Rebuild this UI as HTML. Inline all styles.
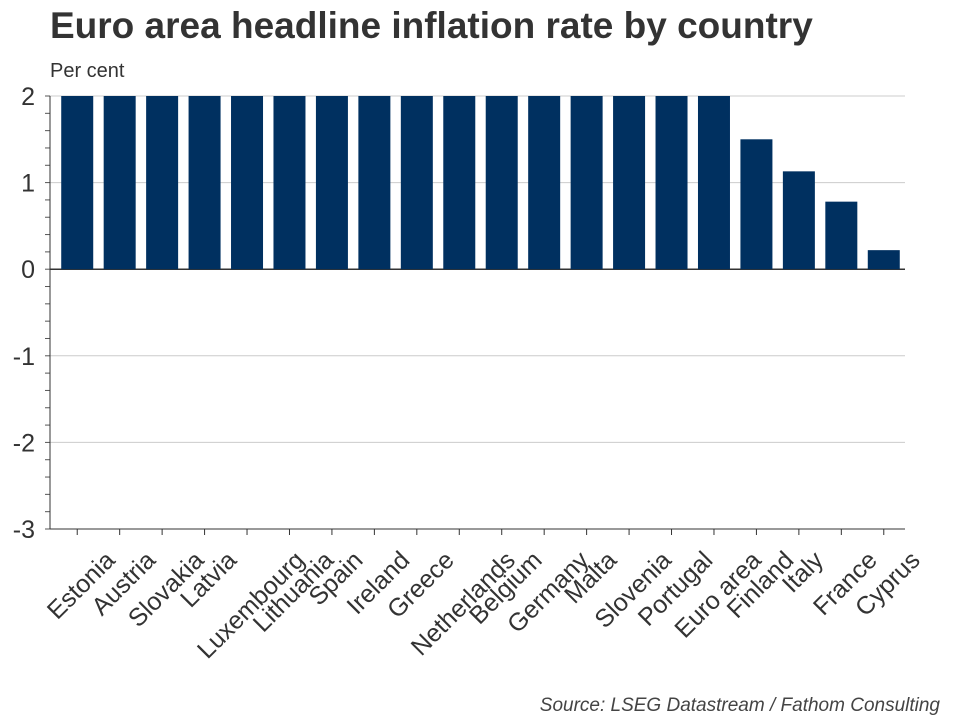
<!DOCTYPE html>
<html><head><meta charset="utf-8"><style>
body{margin:0;background:#fff}
svg text{font-family:"Liberation Sans",Arial,sans-serif}
</style></head><body>
<svg width="960" height="720" id="c">
<text x="50" y="38" font-size="37" font-weight="bold" fill="#333">Euro area headline inflation rate by country</text>
<text x="50" y="77" font-size="20" fill="#333">Per cent</text>
<text x="940" y="711" font-size="19" font-style="italic" fill="#444" text-anchor="end">Source: LSEG Datastream / Fathom Consulting</text>
<g id="plot"></g>
</svg>
<script>
const categories=["Estonia","Austria","Slovakia","Latvia","Luxembourg","Lithuania","Spain","Ireland","Greece","Netherlands","Belgium","Germany","Malta","Slovenia","Portugal","Euro area","Finland","Italy","France","Cyprus"];
const values=[2,2,2,2,2,2,2,2,2,2,2,2,2,2,2,2,1.5,1.13,0.78,0.22];
const yTicks=[2,1,0,-1,-2,-3];
const yMin=-3,yMax=2;
const L=50,R=905,T=96,B=529,X0=56,band=(R-X0)/categories.length;
const y=v=>B-(Math.max(yMin,Math.min(yMax,v))-yMin)/(yMax-yMin)*(B-T);
const xc=i=>X0+band*(i+0.5);
const g=document.getElementById('plot');const NS="http://www.w3.org/2000/svg";
function mk(t,a){const e=document.createElementNS(NS,t);for(const k in a)e.setAttribute(k,a[k]);g.appendChild(e);return e;}
yTicks.forEach(t=>{
 if(t!==yMin){const l=mk('line',{x1:L,x2:R,y1:y(t),y2:y(t),stroke:t===0?'#333':'#ccc','stroke-width':t===0?1.5:1});
 
 }
 const tx=mk('text',{x:L-15,y:y(t)+9,'font-size':25,fill:'#333','text-anchor':'end'});tx.textContent=t;
 
 
});
for(let v=yMin;v<=yMax+1e-9;v+=0.2){mk('line',{x1:L-5,x2:L,y1:y(v),y2:y(v),stroke:'#555'});}
values.forEach((v,i)=>{
 const y0=y(0),y1=y(v);
 const r=mk('rect',{x:xc(i)-16,width:32,y:Math.min(y0,y1),height:Math.abs(y1-y0),fill:'#003060'});
 
 
 mk('line',{x1:xc(i),x2:xc(i),y1:B,y2:B+6,stroke:'#333'});
 const tx=mk('text',{x:0,y:0,'font-size':25,fill:'#333','text-anchor':'middle','dominant-baseline':'central'});
 tx.textContent=categories[i];
 
 
 const len=tx.getComputedTextLength();
 tx.setAttribute('transform',`translate(${xc(i)+4},${556+len*0.354}) rotate(-45)`);
});
const ax=mk('line',{x1:L,x2:L,y1:T,y2:B,stroke:'#333'});


const bx=mk('line',{x1:L,x2:R,y1:B,y2:B,stroke:'#333'});


</script>
</body></html>
